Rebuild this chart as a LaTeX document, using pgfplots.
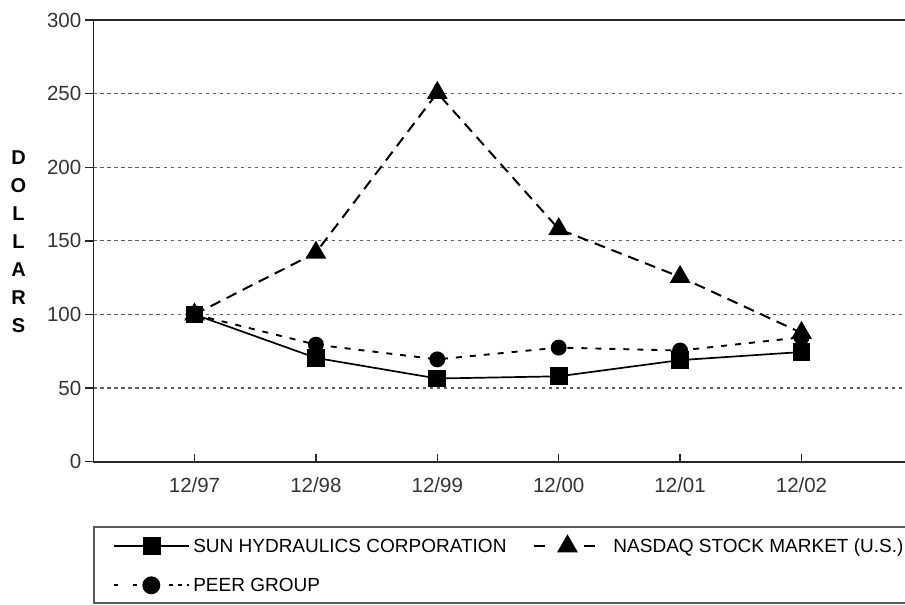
\documentclass[border=0pt]{standalone}
\usepackage{fontspec}
\setmainfont{Liberation Sans}
\usepackage{pgfplots}
\pgfplotsset{compat=1.18}
\pgfplotsset{
  sunleg/.style={legend image code/.code={
    \draw[black, line width=1.7pt] (0pt,0pt) -- (75pt,0pt);
    \draw[##1, solid] plot coordinates {(38pt,0pt)};}},
  nasleg/.style={legend image code/.code={
    \draw[black, line width=2pt] (0pt,0pt) -- (15pt,0pt) (50pt,0pt) -- (66pt,0pt);
    \draw[##1, solid] plot coordinates {(33pt,0pt)};
    \path (0pt,0pt) (75pt,0pt);}},
  peerleg/.style={legend image code/.code={
    \draw[black, line width=2pt, dash pattern=on 4pt off 15pt] (0pt,0pt) -- (40pt,0pt);
    \draw[black, line width=2pt, dash pattern=on 4pt off 5pt] (55pt,0pt) -- (75pt,0pt);
    \draw[##1, solid, mark size=8pt] plot coordinates {(37pt,0pt)};}},
}
\begin{document}
\begin{tikzpicture}
\begin{axis}[
  at={(0pt,0pt)}, anchor=south west,
  scale only axis, width=829.4pt, height=441.7pt,
  xmin=-0.832, xmax=6, ymin=0, ymax=300,
  xtick={0,1,2,3,4,5},
  xticklabels={12/97,12/98,12/99,12/00,12/01,12/02},
  ytick={0,50,100,150,200,250,300},
  xtick pos=bottom, ytick pos=left,
  xtick align=inside, ytick align=outside,
  major tick length=8pt,
  tick style={line width=1.4pt, black!85},
  ymajorgrids,
  grid style={gray!75!black, line width=1.2pt, dash pattern=on 3.5pt off 3.5pt},
  axis line style={line width=1.9pt, black!85},
  /pgf/number format/assume math mode=true,
  ticklabel style={font=\fontsize{20.5}{24}\selectfont, text=black!80},
  yticklabel style={anchor=east, inner sep=0pt, xshift=-4pt},
  xticklabel style={anchor=north, inner sep=0pt, yshift=-16pt},
  legend columns=2,
  legend cell align=left,
  legend style={at={(0,-0.1456)}, anchor=north west,
    draw=gray!70!black, line width=1.6pt,
    font=\fontsize{19}{22}\selectfont,
    inner xsep=19pt, inner ysep=9.5pt,
    nodes={inner sep=0pt},
    row sep=23pt,
    /tikz/every odd column/.append style={column sep=3pt},
    /tikz/every even column/.append style={column sep=27pt}},
]
\addplot[black, line width=1.7pt, mark=square*, mark size=8pt, mark options={solid}, sunleg]
  coordinates {(0,100) (1,70.5) (2,56.5) (3,58) (4,69) (5,74.5)};
\addlegendentry{SUN HYDRAULICS CORPORATION}
\addplot[black, line width=2pt, dash pattern=on 11pt off 7pt, mark=triangle*, mark size=10pt, mark options={solid}, nasleg]
  coordinates {(0,100) (1,142) (2,250.5) (3,158) (4,125.5) (5,87.5)};
\addlegendentry{NASDAQ STOCK MARKET (U.S.)}
\addplot[black, line width=1.9pt, dash pattern=on 6pt off 8pt, mark=*, mark size=7pt, mark options={solid}, peerleg]
  coordinates {(0,100) (1,79.5) (2,69.5) (3,77.5) (4,75.5) (5,84.5)};
\addlegendentry{PEER GROUP}
\end{axis}
\node[font=\bfseries\fontsize{20}{28}\selectfont, align=center, inner sep=0pt] at (-75pt,220pt) {D\\O\\L\\L\\A\\R\\S};
\pgfresetboundingbox
\useasboundingbox (-93.5pt,-143.3pt) rectangle (811.5pt,461.7pt);
\end{tikzpicture}
\end{document}
